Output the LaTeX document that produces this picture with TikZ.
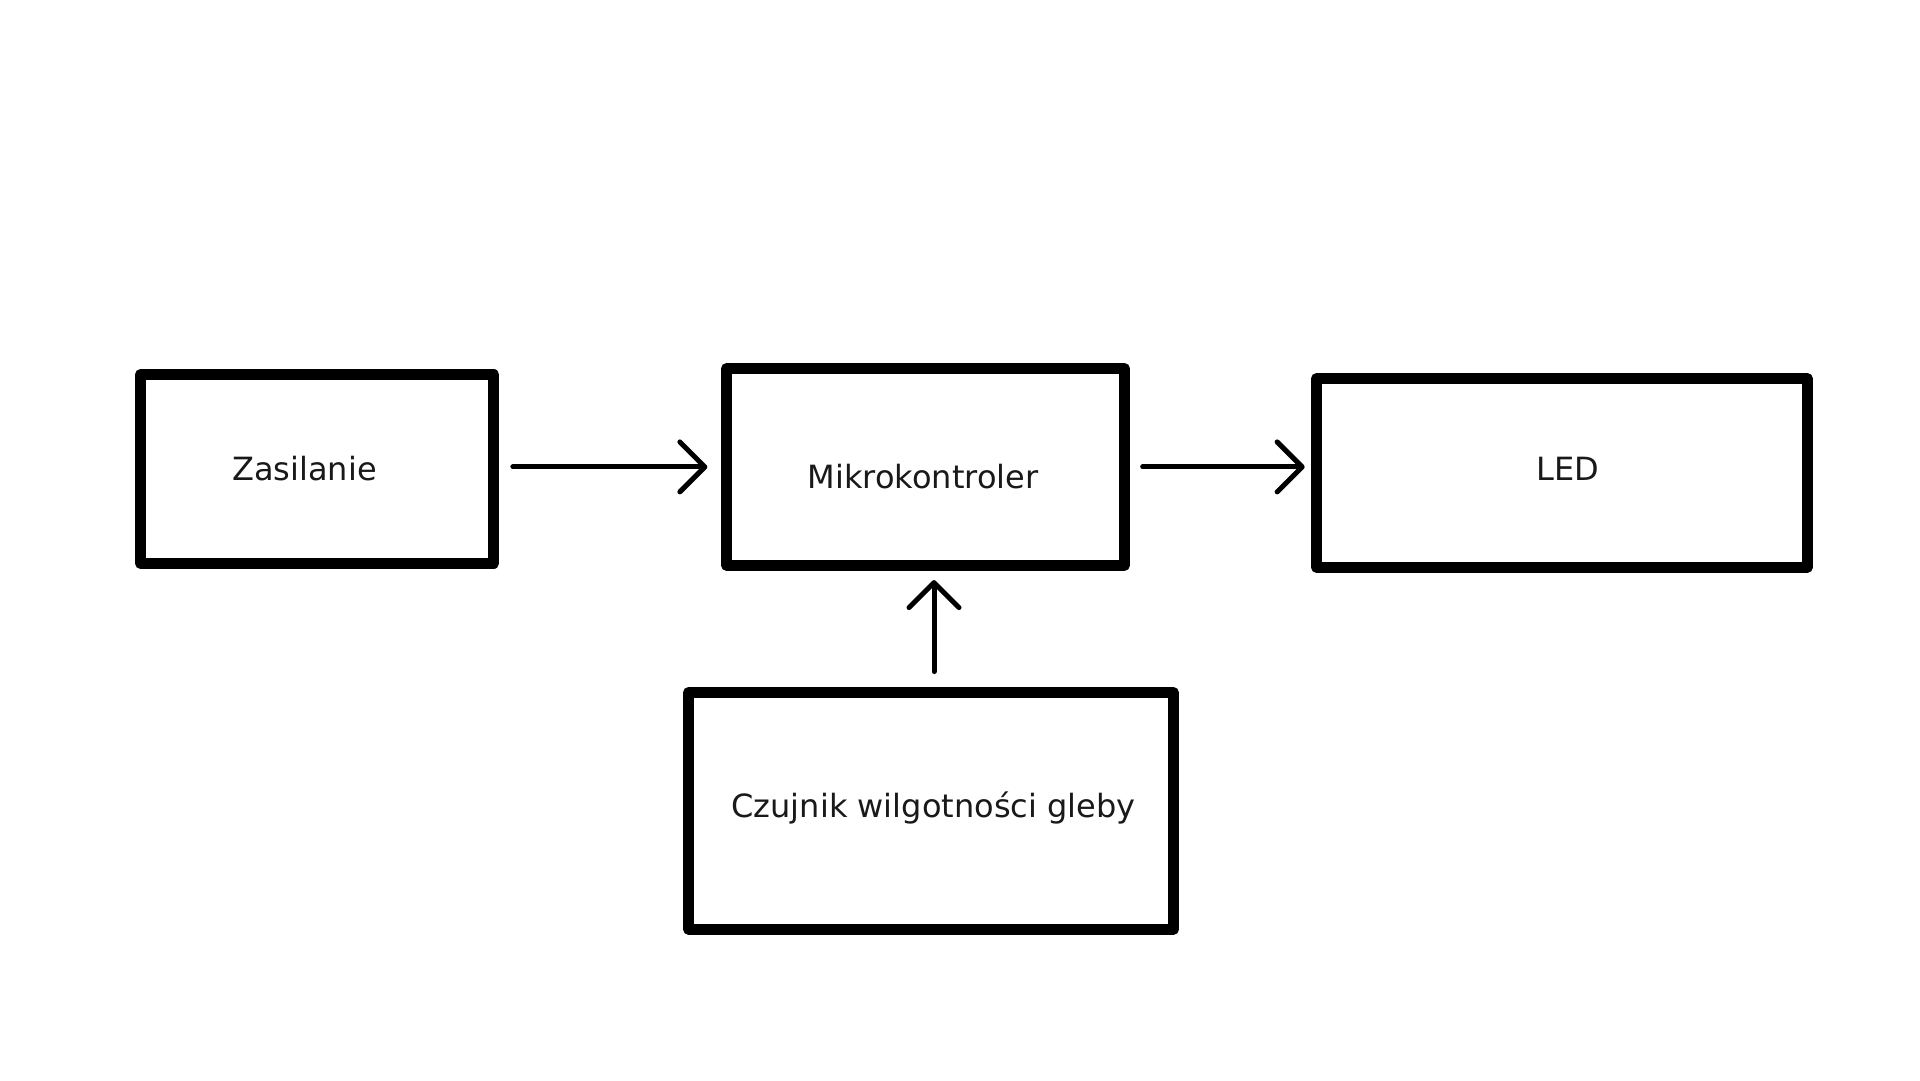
\documentclass[tikz,border=0pt]{standalone}
\usepackage{fontspec}
\setmainfont{DejaVu Sans}
\usetikzlibrary{arrows.meta}
\begin{document}
\begin{tikzpicture}[x=1pt,y=-1pt,
  box/.style={draw=black, line width=10.7pt, line join=round, rectangle, inner sep=0pt},
  txt/.style={font=\fontsize{32}{38}\selectfont, text=black!90},
  arr/.style={line width=5pt, line cap=round, -{Straight Barb[length=25pt,width=50pt,line cap=round,line join=round]}}
]
\useasboundingbox (0,0) rectangle (1920,1080);
\fill[white] (0,0) rectangle (1920,1080);
\node[box, minimum width=353.2pt, minimum height=189pt] (zas) at (317.1,469) {};
\node[box, minimum width=398pt, minimum height=196.8pt] (mikro) at (925.5,466.9) {};
\node[box, minimum width=490.8pt, minimum height=188.8pt] (led) at (1561.9,472.9) {};
\node[box, minimum width=485pt, minimum height=236.8pt] (czuj) at (931,810.9) {};
\node[txt] (tzas) at ([xshift=-12.6pt]zas.center) {Zasilanie};
\node[txt] (tmikro) at ([xshift=-2.5pt,yshift=-9.8pt]mikro.center) {Mikrokontroler};
\node[txt] (tled) at ([xshift=6pt,yshift=3.6pt]led.center) {LED};
\node[txt] (tczuj) at ([xshift=2.5pt,yshift=2.6pt]czuj.center) {Czujnik wilgotności gleby};
\draw[arr, shorten <=13.8pt, shorten >=13.8pt] (zas.east |- mikro.center) -- (mikro.west);
\draw[arr, shorten <=12.8pt, shorten >=6.5pt] (mikro.east) -- (mikro.east -| led.west);
\draw[arr, shorten <=15.6pt, shorten >=9.4pt] ([xshift=3pt]czuj.north) -- ([xshift=3pt]czuj.north |- mikro.south);
\end{tikzpicture}
\end{document}
